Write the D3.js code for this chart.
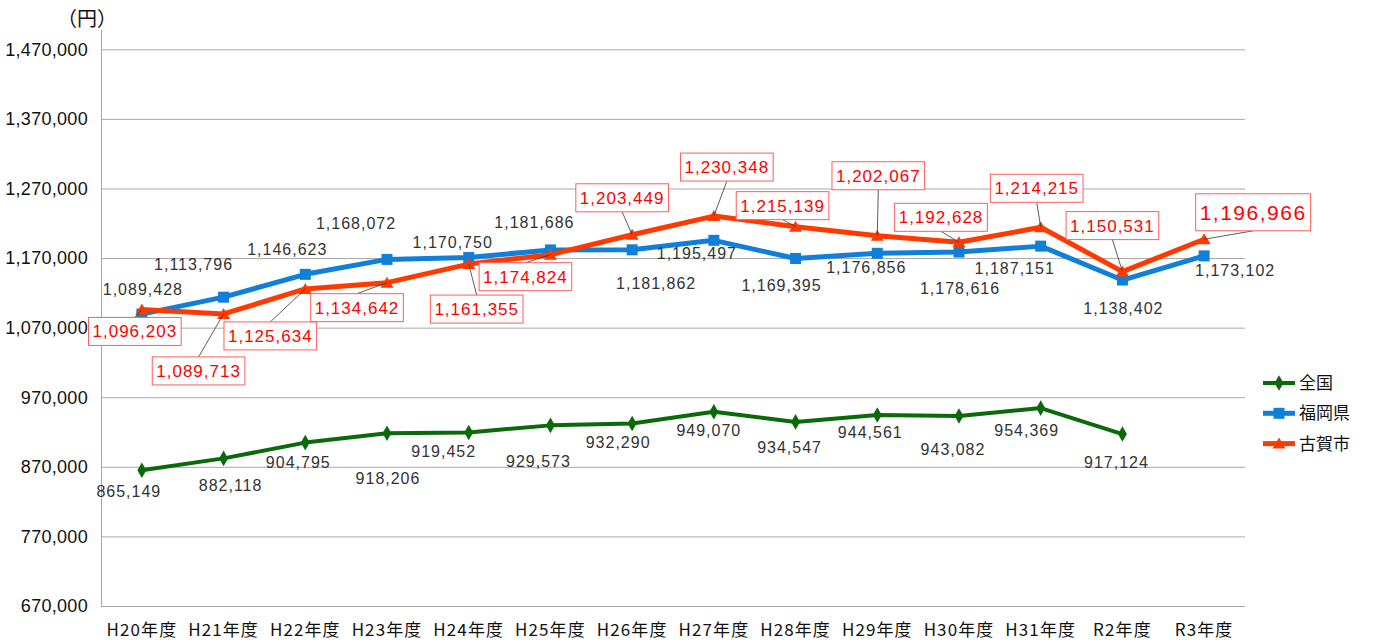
<!DOCTYPE html>
<html><head><meta charset="utf-8">
<script src="https://cdn.jsdelivr.net/npm/d3@7"></script>
<style>
html,body{margin:0;padding:0;background:#fff;}
svg{display:block;}
</style></head>
<body>
<svg id="chart" width="1379" height="643"></svg>
<script>
// ---- data ----
const categories = ["H20年度","H21年度","H22年度","H23年度","H24年度","H25年度","H26年度","H27年度","H28年度","H29年度","H30年度","H31年度","R2年度","R3年度"];
const zenkoku = [865149, 882118, 904795, 918206, 919452, 929573, 932290, 949070, 934547, 944561, 943082, 954369, 917124, null];
const fukuoka = [1089428, 1113796, 1146623, 1168072, 1170750, 1181686, 1181862, 1195497, 1169395, 1176856, 1178616, 1187151, 1138402, 1173102];
const koga = [1096203, 1089713, 1125634, 1134642, 1161355, 1174824, 1203449, 1230348, 1215139, 1202067, 1192628, 1214215, 1150531, 1196966];
const yTicks = [670000, 770000, 870000, 970000, 1070000, 1170000, 1270000, 1370000, 1470000];
const seriesNames = ["全国", "福岡県", "古賀市"];
const unitLabel = "（円）";

// ---- layout (label offsets from their points, px) ----
const zenkokuLabelOffsets = [[-13,21],[7,27],[-7,20],[1,45],[-25,19],[-12,36],[-14,19],[-5,19],[-6,25],[-7,17],[-6,33],[-14,22],[-6,28]];
const fukuokaLabelOffsets = [[1,-25],[-30,-33],[-18,-25],[-31,-36],[-16,-15],[-16,-28],[24,34],[-17,13],[-14,27],[-11,14],[1,36],[-26,22],[1,28],[31,14]];
const kogaLabelOffsets = [[-7,22],[-25,57],[-35,47],[-30,25],[8,45],[-25,22],[-10,-37],[13,-49],[-13,-21],[1,-60],[-18,-25],[-4,-39],[-10,-46],[49,-27]];

const colors = {zenkoku:"#0a6a0a", fukuoka:"#0f7fda", koga:"#ff3a00"};
const svg = d3.select("#chart");
const plotLeft = 101, plotRight = 1245, plotTop = 30, plotBottom = 606;

const x = d3.scaleBand().domain(categories).range([plotLeft, plotRight]).padding(0);
const cx = c => x(c) + x.bandwidth()/2;
const y = d3.scaleLinear().domain([670000, 1470000]).range([plotBottom, 49.3]);

// gridlines
const grid = svg.append("g").attr("transform", `translate(${plotLeft},0)`)
  .call(d3.axisLeft(y).tickValues(yTicks).tickSize(-(plotRight-plotLeft)).tickFormat(""));
grid.select(".domain").remove();
grid.selectAll("line").attr("stroke", "#a8a8a8").attr("stroke-width", 1);

// axis lines
svg.append("line").attr("x1", plotLeft+0.5).attr("x2", plotLeft+0.5).attr("y1", plotTop).attr("y2", plotBottom).attr("stroke", "#a8a8a8");
svg.append("line").attr("x1", plotLeft).attr("x2", plotRight).attr("y1", plotBottom+0.5).attr("y2", plotBottom+0.5).attr("stroke", "#a8a8a8");

// y tick labels
const yAxis = svg.append("g").attr("transform", `translate(88,0)`)
  .call(d3.axisLeft(y).tickValues(yTicks).tickSize(0).tickPadding(0).tickFormat(d3.format(",")));
yAxis.select(".domain").remove();
yAxis.selectAll("text").attr("font-family", "'Liberation Sans', Arial, sans-serif").attr("font-size", 18).attr("fill", "#111").attr("letter-spacing", "0.3px");

// x tick labels
const xAxis = svg.append("g").attr("transform", `translate(0,${plotBottom})`)
  .call(d3.axisBottom(x).tickSize(0).tickPadding(0));
xAxis.select(".domain").remove();
xAxis.selectAll("text").attr("y", 24).attr("dy", "0.35em")
  .attr("font-family", "'Noto Sans CJK JP', sans-serif").attr("font-size", 17).attr("fill", "#111").attr("letter-spacing", "1.1px");

// unit label
svg.append("text").attr("x", 57).attr("y", 19).attr("dy", "0.35em").text(unitLabel)
  .attr("font-family", "'Noto Sans CJK JP', sans-serif").attr("font-size", 20).attr("fill", "#111");

// lines
function drawSeries(vals, color, width) {
  const pts = categories.map((c,i)=>({c, v: vals[i]})).filter(d => d.v != null);
  svg.append("path").datum(pts)
    .attr("fill", "none").attr("stroke", color).attr("stroke-width", width).attr("stroke-linejoin", "round")
    .attr("d", d3.line().x(d => cx(d.c)).y(d => y(d.v)));
  return pts;
}
function marker(g, type, color, px, py) {
  if (type === "diamond") {
    g.append("path").attr("d", d3.symbol(d3.symbolDiamond, 70)()).attr("transform", `translate(${px},${py})`).attr("fill", color);
  } else if (type === "square") {
    g.append("rect").attr("x", px-5.5).attr("y", py-5.5).attr("width", 11).attr("height", 11).attr("fill", color);
  } else {
    g.append("path").attr("d", `M${px},${py-6}L${px+6.5},${py+5}L${px-6.5},${py+5}Z`).attr("fill", color);
  }
}

const zPts = drawSeries(zenkoku, colors.zenkoku, 4);
const fPts = drawSeries(fukuoka, colors.fukuoka, 5);
const mk = svg.append("g");
zPts.forEach(d => marker(mk, "diamond", colors.zenkoku, cx(d.c), y(d.v)));
fPts.forEach(d => marker(mk, "square", colors.fukuoka, cx(d.c), y(d.v)));
const kPts = drawSeries(koga, colors.koga, 5);
const mk2 = svg.append("g");
kPts.forEach(d => marker(mk2, "triangle", colors.koga, cx(d.c), y(d.v)));

// plain data labels
const fmt = d3.format(",");
function plainLabels(pts, offs) {
  svg.append("g").selectAll("text").data(pts).join("text")
    .attr("x", (d,i) => cx(d.c) + offs[i][0])
    .attr("y", (d,i) => y(d.v) + offs[i][1])
    .attr("dy", "0.35em").attr("text-anchor", "middle")
    .attr("font-family", "'Liberation Sans', Arial, sans-serif").attr("font-size", 16)
    .attr("letter-spacing", "1px").attr("fill", "#333")
    .text(d => fmt(d.v));
}
plainLabels(zPts, zenkokuLabelOffsets);
plainLabels(fPts, fukuokaLabelOffsets);

// boxed labels for 古賀市
const boxG = svg.append("g");
kPts.forEach((d, i) => {
  const px = cx(d.c), py = y(d.v);
  const lx = px + kogaLabelOffsets[i][0], ly = py + kogaLabelOffsets[i][1];
  const big = i === kPts.length - 1;
  const fs = big ? 21 : 17;
  const g = boxG.append("g");
  const rect = g.append("rect");
  const t = g.append("text").attr("x", lx).attr("y", ly).attr("dy", "0.35em").attr("text-anchor", "middle")
    .attr("font-family", "'Liberation Sans', Arial, sans-serif").attr("font-size", fs)
    .attr("letter-spacing", big ? "1.5px" : "1px").attr("fill", "#ff0000").text(fmt(d.v));
  const bb = t.node().getBBox();
  const w = bb.width + 8, h = big ? 37 : 28;
  rect.attr("x", lx - w/2).attr("y", ly - h/2).attr("width", w).attr("height", h)
    .attr("fill", "#fff").attr("stroke", "#ff5c5c").attr("stroke-width", 1);
  const ey = ly > py ? ly - h/2 : ly + h/2;
  const dist = Math.hypot(lx - px, ey - py);
  if (dist > 4) {
    svg.insert("line", () => boxG.node()).attr("x1", px).attr("y1", py).attr("x2", lx).attr("y2", ey)
      .attr("stroke", "#333").attr("stroke-width", 0.8);
  }
});

// legend
const legend = svg.append("g");
const legendItems = [
  {name: seriesNames[0], color: colors.zenkoku, type: "diamond", w: 4},
  {name: seriesNames[1], color: colors.fukuoka, type: "square", w: 5},
  {name: seriesNames[2], color: colors.koga, type: "triangle", w: 5}
];
legendItems.forEach((it, i) => {
  const ly = 383 + i * 30.3;
  legend.append("line").attr("x1", 1263).attr("x2", 1295).attr("y1", ly).attr("y2", ly)
    .attr("stroke", it.color).attr("stroke-width", it.w);
  marker(legend, it.type, it.color, 1279, ly);
  legend.append("text").attr("x", 1299).attr("y", ly).attr("dy", "0.36em").text(it.name)
    .attr("font-family", "'Noto Sans CJK JP', sans-serif").attr("font-size", 17).attr("fill", "#111");
});
</script>
</body></html>
